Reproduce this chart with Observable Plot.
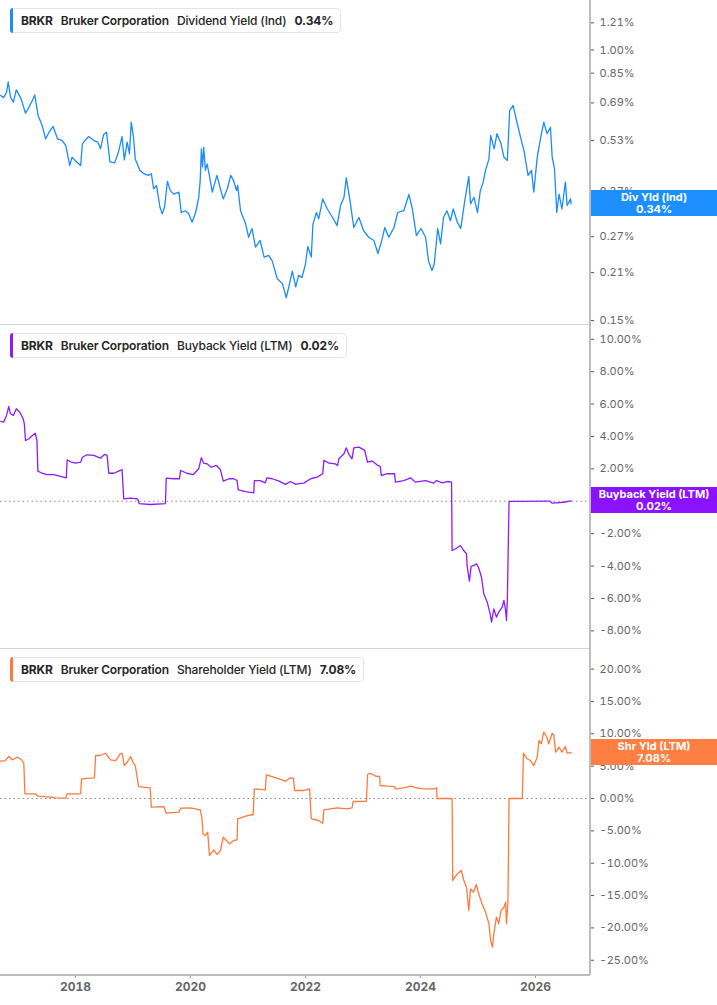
<!DOCTYPE html>
<html><head><meta charset="utf-8">
<script src="https://cdn.jsdelivr.net/npm/d3@7"></script>
<script src="https://cdn.jsdelivr.net/npm/@observablehq/plot@0.6"></script>
<style>
body{margin:0;background:#fff;font-family:Inter,"Noto Sans",sans-serif;}
#wrap{position:relative;width:717px;height:1005px;overflow:hidden;background:#fff;}
.panel{position:absolute;left:0;}
.sep{position:absolute;left:0;width:590px;height:1px;background:#d2d2d2;}
.vaxis{position:absolute;left:589px;top:0;width:2px;height:975px;background:#bdbdbd;}
.legend{position:absolute;left:10px;height:25px;border:1px solid #e4e4e4;border-radius:4px;background:#fff;display:flex;align-items:center;padding:0 7px 0 10px;font-size:12px;letter-spacing:-0.15px;color:#262626;white-space:nowrap;box-sizing:border-box;}
.legend .bar{position:absolute;left:-1px;top:-1px;bottom:-1px;width:3px;border-radius:3px 0 0 3px;}
.legend span{margin-right:8px;}
.legend span:last-child{margin-right:0;}
.legend .t{font-weight:700;}
.legend .n{font-weight:600;}
.legend .m{font-weight:500;}
.legend .v{font-weight:700;}
.vbox{position:absolute;left:590px;width:127px;height:26px;color:#fff;font-weight:700;font-size:11px;line-height:12px;text-align:center;box-sizing:border-box;padding-top:1px;padding-left:1px;}
</style>
</head><body>
<div id="wrap"></div>
<script>
// ---- data (decimal year, percent) ----
const divYield = [[2016.70,0.727],[2016.75,0.716],[2016.80,0.742],[2016.83,0.799],[2016.87,0.719],[2016.92,0.694],[2016.97,0.756],[2017.01,0.735],[2017.06,0.705],[2017.13,0.642],[2017.19,0.670],[2017.25,0.702],[2017.29,0.730],[2017.35,0.632],[2017.42,0.589],[2017.48,0.536],[2017.54,0.562],[2017.61,0.585],[2017.69,0.536],[2017.77,0.530],[2017.83,0.512],[2017.90,0.445],[2017.94,0.472],[2018.02,0.456],[2018.09,0.445],[2018.12,0.518],[2018.19,0.536],[2018.23,0.545],[2018.32,0.530],[2018.39,0.524],[2018.435,0.500],[2018.49,0.553],[2018.54,0.562],[2018.60,0.456],[2018.68,0.453],[2018.74,0.483],[2018.81,0.545],[2018.85,0.463],[2018.90,0.524],[2018.94,0.483],[2018.97,0.603],[2019.01,0.542],[2019.04,0.466],[2019.12,0.430],[2019.19,0.420],[2019.27,0.415],[2019.32,0.420],[2019.36,0.378],[2019.41,0.387],[2019.47,0.332],[2019.51,0.317],[2019.55,0.332],[2019.60,0.398],[2019.65,0.373],[2019.71,0.364],[2019.80,0.369],[2019.84,0.320],[2019.91,0.324],[2019.97,0.317],[2020.03,0.299],[2020.09,0.320],[2020.145,0.356],[2020.17,0.400],[2020.19,0.500],[2020.21,0.440],[2020.23,0.506],[2020.26,0.430],[2020.29,0.450],[2020.34,0.405],[2020.38,0.369],[2020.46,0.415],[2020.52,0.378],[2020.57,0.352],[2020.64,0.378],[2020.70,0.415],[2020.75,0.400],[2020.80,0.373],[2020.82,0.387],[2020.87,0.324],[2020.96,0.295],[2021.01,0.269],[2021.07,0.286],[2021.13,0.251],[2021.21,0.263],[2021.28,0.234],[2021.36,0.237],[2021.42,0.228],[2021.51,0.201],[2021.60,0.194],[2021.665,0.176],[2021.71,0.190],[2021.77,0.212],[2021.83,0.190],[2021.88,0.206],[2021.94,0.203],[2022.00,0.223],[2022.04,0.252],[2022.10,0.234],[2022.13,0.295],[2022.19,0.320],[2022.23,0.306],[2022.30,0.352],[2022.38,0.328],[2022.47,0.309],[2022.55,0.292],[2022.61,0.336],[2022.67,0.356],[2022.71,0.408],[2022.77,0.352],[2022.84,0.288],[2022.93,0.309],[2023.01,0.282],[2023.10,0.269],[2023.19,0.263],[2023.26,0.240],[2023.32,0.260],[2023.38,0.288],[2023.45,0.269],[2023.54,0.288],[2023.605,0.320],[2023.71,0.324],[2023.80,0.363],[2023.86,0.328],[2023.93,0.272],[2024.01,0.286],[2024.09,0.269],[2024.14,0.228],[2024.20,0.213],[2024.24,0.223],[2024.30,0.286],[2024.35,0.257],[2024.40,0.309],[2024.46,0.324],[2024.52,0.302],[2024.57,0.328],[2024.64,0.299],[2024.70,0.286],[2024.77,0.348],[2024.84,0.412],[2024.87,0.340],[2024.93,0.356],[2024.99,0.320],[2025.04,0.373],[2025.09,0.396],[2025.13,0.430],[2025.19,0.466],[2025.22,0.549],[2025.28,0.500],[2025.33,0.556],[2025.40,0.518],[2025.45,0.472],[2025.51,0.461],[2025.55,0.654],[2025.61,0.678],[2025.67,0.610],[2025.74,0.542],[2025.80,0.494],[2025.87,0.415],[2025.93,0.430],[2025.97,0.369],[2026.03,0.472],[2026.09,0.542],[2026.145,0.603],[2026.20,0.556],[2026.26,0.581],[2026.29,0.472],[2026.33,0.435],[2026.37,0.320],[2026.41,0.364],[2026.46,0.328],[2026.52,0.396],[2026.55,0.336],[2026.61,0.352],[2026.62,0.340]];

const buybackYield = [[2016.70,4.94],[2016.75,4.88],[2016.80,5.30],[2016.84,5.85],[2016.87,5.40],[2016.92,5.30],[2016.97,5.71],[2017.03,5.50],[2017.09,5.09],[2017.11,4.78],[2017.13,3.75],[2017.19,3.86],[2017.25,4.06],[2017.30,4.20],[2017.33,3.75],[2017.345,1.86],[2017.42,1.73],[2017.51,1.64],[2017.62,1.65],[2017.74,1.53],[2017.84,1.45],[2017.855,2.56],[2017.93,2.41],[2018.00,2.35],[2018.09,2.41],[2018.12,2.72],[2018.20,2.87],[2018.32,2.83],[2018.435,2.66],[2018.505,2.89],[2018.55,2.83],[2018.58,1.73],[2018.67,1.73],[2018.75,1.86],[2018.81,1.96],[2018.84,0.15],[2018.96,0.19],[2019.08,0.15],[2019.11,-0.15],[2019.30,-0.20],[2019.565,-0.15],[2019.58,1.43],[2019.71,1.39],[2019.81,1.39],[2019.83,1.90],[2019.94,1.73],[2020.05,1.65],[2020.145,2.01],[2020.19,2.69],[2020.23,2.35],[2020.29,2.31],[2020.36,2.10],[2020.45,2.21],[2020.52,1.96],[2020.57,1.24],[2020.67,1.39],[2020.75,1.39],[2020.81,1.28],[2020.83,0.71],[2020.96,0.60],[2021.10,0.52],[2021.11,1.28],[2021.21,1.28],[2021.30,1.14],[2021.33,1.45],[2021.42,1.39],[2021.54,1.24],[2021.65,1.04],[2021.74,1.22],[2021.83,1.04],[2021.86,1.08],[2021.97,1.12],[2022.09,1.39],[2022.20,1.49],[2022.30,1.70],[2022.32,2.52],[2022.41,2.35],[2022.52,2.31],[2022.56,2.21],[2022.58,2.62],[2022.67,2.93],[2022.71,3.30],[2022.75,2.93],[2022.81,2.62],[2022.84,3.30],[2022.93,3.34],[2023.03,3.14],[2023.08,2.41],[2023.16,2.48],[2023.26,2.21],[2023.30,2.15],[2023.32,1.59],[2023.42,1.70],[2023.55,1.70],[2023.565,1.18],[2023.71,1.28],[2023.83,1.45],[2023.91,1.18],[2024.09,1.28],[2024.23,1.12],[2024.28,1.28],[2024.38,1.14],[2024.465,1.22],[2024.54,1.18],[2024.55,-3.04],[2024.61,-2.93],[2024.696,-2.73],[2024.75,-3.04],[2024.80,-3.24],[2024.81,-3.96],[2024.85,-4.93],[2024.88,-4.02],[2024.93,-3.96],[2024.975,-3.86],[2025.01,-4.10],[2025.06,-4.69],[2025.10,-5.71],[2025.16,-6.23],[2025.21,-6.94],[2025.235,-7.46],[2025.275,-6.64],[2025.32,-7.15],[2025.36,-6.85],[2025.42,-6.54],[2025.45,-6.12],[2025.48,-6.74],[2025.495,-7.36],[2025.51,-6.02],[2025.54,-0.01],[2025.80,-0.01],[2026.145,0.01],[2026.25,0.01],[2026.29,-0.12],[2026.49,-0.06],[2026.62,0.02]];

const shareholderYield = [[2016.70,5.77],[2016.78,5.87],[2016.84,6.49],[2016.90,5.98],[2016.99,6.38],[2017.06,5.98],[2017.10,5.52],[2017.12,0.73],[2017.30,0.73],[2017.345,0.36],[2017.565,0.20],[2017.65,0.11],[2017.83,0.05],[2017.855,0.73],[2018.09,0.73],[2018.105,3.04],[2018.33,3.20],[2018.35,6.65],[2018.435,6.65],[2018.52,7.00],[2018.61,5.98],[2018.70,5.87],[2018.78,6.91],[2018.81,7.00],[2018.85,5.10],[2018.90,5.61],[2018.96,6.49],[2019.00,5.61],[2019.04,5.10],[2019.10,1.85],[2019.30,1.65],[2019.32,-1.34],[2019.54,-1.24],[2019.58,-2.27],[2019.80,-2.12],[2019.83,-1.50],[2020.00,-1.44],[2020.17,-1.75],[2020.20,-2.98],[2020.22,-5.56],[2020.26,-5.72],[2020.30,-5.21],[2020.33,-8.81],[2020.405,-7.93],[2020.465,-8.66],[2020.52,-8.04],[2020.57,-5.98],[2020.68,-7.00],[2020.75,-6.49],[2020.81,-6.38],[2020.82,-3.14],[2020.99,-2.63],[2021.09,-2.47],[2021.11,1.50],[2021.30,1.34],[2021.32,3.66],[2021.45,3.29],[2021.65,2.67],[2021.74,3.20],[2021.79,3.14],[2021.81,1.24],[2021.97,1.24],[2022.07,1.50],[2022.10,-3.14],[2022.23,-3.40],[2022.30,-3.82],[2022.32,-1.75],[2022.55,-1.44],[2022.73,-1.59],[2022.81,-1.44],[2022.83,-0.46],[2023.06,-0.42],[2023.08,3.71],[2023.13,3.91],[2023.22,3.45],[2023.29,3.40],[2023.30,2.01],[2023.42,1.90],[2023.55,1.85],[2023.565,1.50],[2023.71,1.65],[2023.83,1.90],[2023.94,1.65],[2024.06,1.50],[2024.24,1.50],[2024.28,1.65],[2024.29,0],[2024.55,0],[2024.56,-12.67],[2024.64,-11.64],[2024.71,-11.13],[2024.75,-12.57],[2024.80,-13.71],[2024.84,-17.31],[2024.87,-13.96],[2024.92,-14.48],[2024.97,-13.29],[2025.01,-14.73],[2025.07,-16.28],[2025.13,-17.57],[2025.19,-19.37],[2025.22,-21.95],[2025.25,-22.98],[2025.275,-20.91],[2025.32,-18.35],[2025.36,-19.37],[2025.40,-17.31],[2025.45,-16.80],[2025.48,-16.03],[2025.495,-19.37],[2025.52,-16.03],[2025.54,0],[2025.77,0],[2025.79,7.00],[2025.855,6.14],[2025.91,5.87],[2025.97,5.10],[2026.03,6.38],[2026.06,8.96],[2026.10,8.45],[2026.145,10.25],[2026.20,9.47],[2026.23,8.45],[2026.29,10.09],[2026.32,9.74],[2026.35,7.16],[2026.41,7.93],[2026.46,7.16],[2026.52,8.04],[2026.55,7.00],[2026.62,7.08]];

const divTicks = [0.15,0.21,0.27,0.33,0.37,0.53,0.69,0.85,1.00,1.21];
const buybackTicks = [-8,-6,-4,-2,0,2,4,6,8,10];
const shareholderTicks = [-25,-20,-15,-10,-5,0,5,10,15,20];
const yearTicks = [2018,2020,2022,2024,2026];
const xRange = [2016.696, 2026.957];

const ticker = "BRKR", company = "Bruker Corporation";
const panels = [
  {data: divYield, metric: "Dividend Yield (Ind)", short: "Div Yld (Ind)", color: "#1b8bff", box: "#1e8fff",
   y: {type: "log", domain: [0.1449, 1.4148]}, ticks: divTicks, zero: false, top: 0, height: 325, mb: 0},
  {data: buybackYield, metric: "Buyback Yield (LTM)", short: "Buyback Yield (LTM)", color: "#8c1cff", box: "#8a12ff",
   y: {domain: [-9.15, 10.85]}, ticks: buybackTicks, zero: true, top: 325, height: 324, mb: 0},
  {data: shareholderYield, metric: "Shareholder Yield (LTM)", short: "Shr Yld (LTM)", color: "#ff7a3c", box: "#ff7f42",
   y: {domain: [-27.2, 23.03]}, ticks: shareholderTicks, zero: true, top: 649, height: 356, mb: 31, xAxis: true}
];

// ---- helpers ----
const toDate = y => { const yr = Math.floor(y); const s = Date.UTC(yr,0,1), e = Date.UTC(yr+1,0,1); return new Date(s + (y-yr)*(e-s)); };
const pct = d => d.toFixed(2) + "%";
const wrap = document.getElementById("wrap");

panels.forEach(p => {
  const rows = p.data.map(([d, v]) => ({date: toDate(d), value: v}));
  const marks = [];
  if (p.zero) marks.push(Plot.ruleY([0], {stroke: "#8a8a8a", strokeWidth: 1.2, strokeDasharray: "1.5,3"}));
  marks.push(Plot.line(rows, {x: "date", y: "value", stroke: p.color, strokeWidth: 1.3}));
  marks.push(Plot.axisY({anchor: "right", ticks: p.ticks, tickFormat: pct, tickSize: 3, tickPadding: 6,
    stroke: "#555", fill: "#666", fontSize: 11, label: null}));
  if (p.xAxis) marks.push(Plot.axisX({ticks: yearTicks.map(y => new Date(Date.UTC(y,0,1))), tickFormat: d3.utcFormat("%Y"),
    tickSize: 4, tickPadding: 4, stroke: "#999", fill: "#666", fontSize: 12, fontWeight: "bold", label: null}));
  const chart = Plot.plot({
    width: 717, height: p.height,
    marginLeft: 0, marginRight: 127, marginTop: 0, marginBottom: p.mb,
    style: {fontFamily: "Inter, 'Noto Sans', sans-serif", background: "transparent", overflow: "visible"},
    x: {type: "utc", domain: xRange.map(toDate), axis: null},
    y: {...p.y, axis: null},
    marks
  });
  const holder = document.createElement("div");
  holder.className = "panel";
  holder.style.top = p.top + "px";
  holder.appendChild(chart);
  wrap.appendChild(holder);

  // legend box
  const last = p.data[p.data.length - 1][1];
  const lg = document.createElement("div");
  lg.className = "legend";
  lg.style.top = (p.top + 8) + "px";
  lg.innerHTML = `<div class="bar" style="background:${p.color}"></div><span class="t">${ticker}</span><span class="n">${company}</span><span class="m">${p.metric}</span><span class="v">${pct(last)}</span>`;
  wrap.appendChild(lg);

  // value box on the right, positioned through the y scale
  const py = chart.scale("y").apply(last) + p.top;
  const vb = document.createElement("div");
  vb.className = "vbox";
  vb.style.top = (py - 13) + "px";
  vb.style.background = p.box;
  vb.innerHTML = `${p.short}<br>${pct(last)}`;
  wrap.appendChild(vb);
});

// frame lines
[324, 648].forEach(t => { const s = document.createElement("div"); s.className = "sep"; s.style.top = t + "px"; wrap.appendChild(s); });
const bottom = document.createElement("div"); bottom.className = "sep"; bottom.style.top = "974px"; bottom.style.height = "2px"; bottom.style.background = "#bdbdbd"; wrap.appendChild(bottom);
const va = document.createElement("div"); va.className = "vaxis"; wrap.appendChild(va);
</script>
</body></html>
